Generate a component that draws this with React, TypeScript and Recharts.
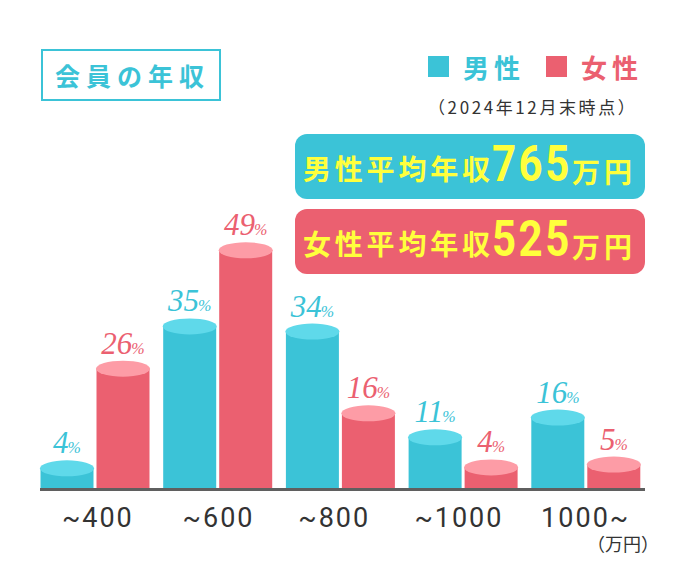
import { Bar, BarChart, LabelList, XAxis, YAxis } from 'recharts';

const categories = ['~400', '~600', '~800', '~1000', '1000~'];
// printed percentages
const maleShare = [4, 35, 34, 11, 16];
const femaleShare = [26, 49, 16, 4, 5];
// drawn bar heights: they do not follow the printed numbers exactly
const maleDrawn = [4.5, 34.7, 33.6, 11.1, 15.3];
const femaleDrawn = [25.7, 50.9, 16.2, 4.7, 5.3];

const chartData = categories.map((name, i) => ({
  name,
  maleDrawn: maleDrawn[i],
  femaleDrawn: femaleDrawn[i],
  maleShare: maleShare[i],
  femaleShare: femaleShare[i],
}));

// the tick texts are not quite centred under their groups in the original
const tickNudge = [3, 1, -6, -4, 0];

const BLUE = '#3bc3d7';
const BLUE_TOP = '#5fd9ea';
const RED = '#eb6070';
const RED_TOP = '#fd9ca6';
const YELLOW = '#ffff3c';
const JP = '"Noto Sans CJK JP", sans-serif';

function Cylinder(props: any, body: string, top: string) {
  const { x, y, width, height } = props;
  return (
    <g>
      <rect x={x} y={y} width={width} height={height + 1.5} fill={body} />
      <ellipse cx={x + width / 2} cy={y} rx={width / 2 + 0.5} ry={8} fill={top} />
    </g>
  );
}

function ShareLabel(props: any, color: string) {
  const { x, y, width, value } = props;
  return (
    <text
      x={x + width / 2}
      y={y - 15}
      textAnchor="middle"
      fill={color}
      fontFamily='"Liberation Serif", serif'
      fontStyle="italic"
      fontSize={31}
    >
      {value}
      <tspan fontSize={16} dx={-1}>%</tspan>
    </text>
  );
}

function CategoryTick(props: any) {
  const { x, y, payload, index } = props;
  return (
    <text
      x={x + tickNudge[index]}
      y={y + 29}
      textAnchor="middle"
      fill="#333"
      fontFamily="Roboto, sans-serif"
      fontSize={27}
      letterSpacing={2}
    >
      {payload.value}
    </text>
  );
}

function Label({ left, top, size, color, spacing = 0, weight = 700, font = JP, scaleX, children }: any) {
  return (
    <div
      style={{
        position: 'absolute',
        left,
        top,
        fontFamily: font,
        fontSize: size,
        lineHeight: 1,
        fontWeight: weight,
        color,
        letterSpacing: spacing,
        whiteSpace: 'nowrap',
        transform: scaleX ? `scaleX(${scaleX})` : undefined,
        transformOrigin: 'left top',
      }}
    >
      {children}
    </div>
  );
}

function Pill({ top, color }: any) {
  return (
    <div
      style={{
        position: 'absolute',
        left: 295,
        top,
        width: 350,
        height: 65,
        borderRadius: 12,
        background: color,
      }}
    />
  );
}

function Square({ left, color }: any) {
  return (
    <div style={{ position: 'absolute', left, top: 56, width: 21, height: 21, background: color }} />
  );
}

export default function App() {
  return (
    <div style={{ position: 'absolute', left: 0, top: 0, width: 687, height: 587, background: '#fff' }}>
      <BarChart
        width={687}
        height={587}
        data={chartData}
        margin={{ top: 19.5, right: 42, bottom: 0, left: 40 }}
        barSize={53}
        barGap={3}
      >
        <YAxis hide domain={[0, 100]} />
        <XAxis
          dataKey="name"
          height={97.5}
          padding={{ left: -6.5, right: -2 }}
          interval={0}
          tickLine={false}
          tick={CategoryTick}
          axisLine={{ stroke: '#5f5f5f', strokeWidth: 3 }}
        />
        <Bar dataKey="maleDrawn" isAnimationActive={false} shape={(p: any) => Cylinder(p, BLUE, BLUE_TOP)}>
          <LabelList dataKey="maleShare" content={(p: any) => ShareLabel(p, BLUE)} />
        </Bar>
        <Bar dataKey="femaleDrawn" isAnimationActive={false} shape={(p: any) => Cylinder(p, RED, RED_TOP)}>
          <LabelList dataKey="femaleShare" content={(p: any) => ShareLabel(p, RED)} />
        </Bar>
      </BarChart>

      <div
        style={{
          position: 'absolute',
          left: 41,
          top: 49,
          width: 176,
          height: 48,
          border: `2px solid ${BLUE}`,
        }}
      />
      <Label left={55} top={63} size={25} color={BLUE} spacing={6}>会員の年収</Label>

      <Square left={428} color={BLUE} />
      <Label left={463} top={54} size={26} color={BLUE} spacing={5}>男性</Label>
      <Square left={546} color={RED} />
      <Label left={581} top={54} size={26} color={RED} spacing={5}>女性</Label>
      <Label left={428} top={98} size={17} color="#333" weight={400} spacing={2.6}>（2024年12月末時点）</Label>

      <Pill top={134} color={BLUE} />
      <Label left={303} top={154} size={28} color={YELLOW} spacing={3.8}>男性平均年収</Label>
      <Label left={492} top={139} size={50} color={YELLOW} spacing={3} font="Roboto, sans-serif" scaleX={0.84}>765</Label>
      <Label left={572} top={157} size={28} color={YELLOW} spacing={4}>万円</Label>

      <Pill top={209} color={RED} />
      <Label left={303} top={229} size={28} color={YELLOW} spacing={3.8}>女性平均年収</Label>
      <Label left={492} top={214} size={50} color={YELLOW} spacing={3} font="Roboto, sans-serif" scaleX={0.84}>525</Label>
      <Label left={572} top={232} size={28} color={YELLOW} spacing={4}>万円</Label>

      <Label left={587} top={534} size={18} color="#333" weight={400}>（万円）</Label>
    </div>
  );
}
